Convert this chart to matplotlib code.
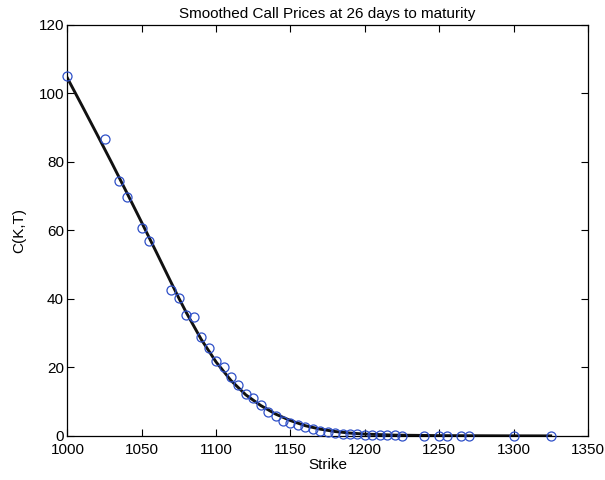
import numpy as np
import matplotlib.pyplot as plt

plt.rcParams['font.family'] = ['Liberation Sans', 'DejaVu Sans']
plt.rcParams['font.size'] = 11

# observed call prices
strikes = [1000, 1025, 1035, 1040, 1050, 1055, 1070, 1075, 1080, 1085,
           1090, 1095, 1100, 1105, 1110, 1115, 1120, 1125, 1130, 1135,
           1140, 1145, 1150, 1155, 1160, 1165, 1170, 1175, 1180, 1185,
           1190, 1195, 1200, 1205, 1210, 1215, 1220, 1225, 1240, 1250,
           1255, 1265, 1270, 1300, 1325]
prices = [105.1, 86.6, 74.5, 69.9, 60.6, 56.9, 42.5, 40.2, 35.3, 34.8,
          28.8, 25.6, 21.9, 20.0, 17.1, 14.9, 12.3, 11.0, 8.9, 6.9,
          5.9, 4.5, 3.7, 3.2, 2.5, 2.0, 1.5, 1.2, 0.9, 0.7,
          0.55, 0.45, 0.35, 0.3, 0.25, 0.2, 0.15, 0.12, 0.08, 0.06,
          0.05, 0.04, 0.04, 0.02, 0.02]

# smoothed curve
smooth_k = [1000, 1010, 1020, 1030, 1040, 1050, 1060, 1070, 1075, 1080,
            1090, 1100, 1110, 1120, 1130, 1140, 1150, 1160, 1170, 1180,
            1190, 1200, 1220, 1250, 1300, 1325]
smooth_c = [104.5, 96.3, 88.0, 79.6, 71.0, 62.3, 53.5, 44.6, 40.2, 36.0,
            28.2, 21.6, 16.2, 12.0, 8.9, 6.4, 4.5, 3.0, 2.0, 1.3,
            0.85, 0.55, 0.25, 0.1, 0.04, 0.03]

fig = plt.figure(figsize=(6.05, 4.8), dpi=100)
ax = fig.add_axes([0.1114, 0.0917, 0.8603, 0.8563])

ax.plot(smooth_k, smooth_c, color='#111111', linewidth=2.1, zorder=2)
ax.plot(strikes, prices, linestyle='none', marker='o', markersize=6.5,
        markerfacecolor='none', markeredgecolor='#2f50c8', markeredgewidth=0.9,
        zorder=3, clip_on=False)

ax.set_xlim(1000, 1350)
ax.set_ylim(0, 120)
ax.set_xticks(np.arange(1000, 1351, 50))
ax.set_yticks(np.arange(0, 121, 20))
ax.tick_params(direction='in', top=True, right=True, length=5, width=0.8,
               labelsize=11, colors='black', pad=2.5)
ax.tick_params(axis='x', pad=5)
for s in ax.spines.values():
    s.set_linewidth(0.9)
    s.set_color('black')

ax.set_title('Smoothed Call Prices at 26 days to maturity', fontsize=11, pad=5)
ax.set_xlabel('Strike', fontsize=11, labelpad=1)
ax.set_ylabel('C(K,T)', fontsize=11, labelpad=9)

fig.savefig('out.png', dpi=100)
